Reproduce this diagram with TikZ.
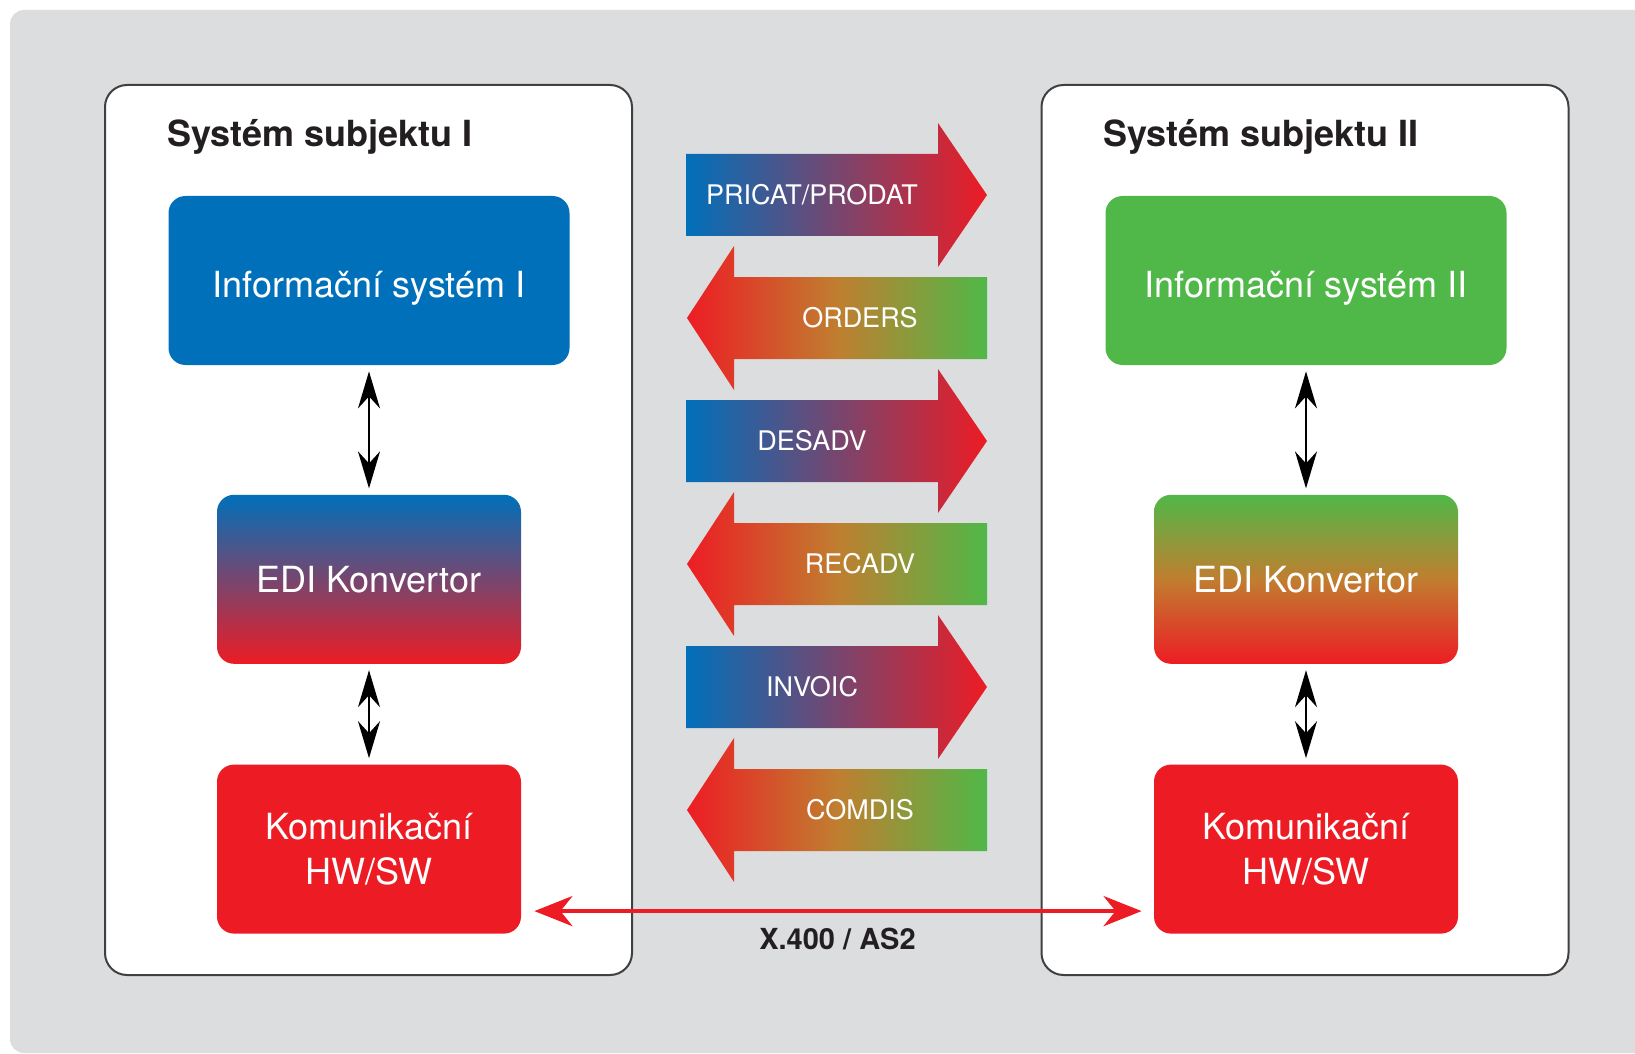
\documentclass[tikz,border=0pt]{standalone}
\usepackage{fontspec}
\setmainfont{TeX Gyre Heros}
\usetikzlibrary{arrows.meta, positioning}

\definecolor{bggray}{RGB}{220,221,223}
\definecolor{rimgray}{RGB}{64,64,64}
\definecolor{isblue}{RGB}{0,112,186}
\definecolor{isgreen}{RGB}{80,184,72}
\definecolor{komred}{RGB}{237,28,36}
\definecolor{midorange}{RGB}{192,126,48}
\definecolor{inkblack}{RGB}{35,31,32}

\begin{document}
\begin{tikzpicture}[
    x=0.5pt, y=-0.5pt,
    node distance=50pt,
    panel/.style={rectangle, draw=rimgray, line width=1pt, fill=white, rounded corners=11pt, minimum width=263.5pt, minimum height=445pt},
    heading/.style={anchor=base west, inner sep=0pt, text=inkblack, font=\fontsize{18}{22}\selectfont\bfseries},
    sysbox/.style={rectangle, rounded corners=8.5pt, text=white, align=center, minimum height=84.5pt, font=\fontsize{18}{22.5}\selectfont},
    widebox/.style={sysbox, minimum width=200.5pt, text height=17pt, text depth=0pt},
    narrowbox/.style={sysbox, minimum width=152pt},
    rmsg/.style={left color=isblue, right color=komred},
    lmsg/.style={left color=komred, right color=isgreen, middle color=midorange},
    msg/.style={text=white, font=\fontsize{13.5}{16}\selectfont},
    dbl/.style={<->, line width=1pt, shorten <=3pt, shorten >=3pt, >={Stealth[length=18.5pt, width=11pt, inset=6pt]}},
    link/.style={<->, draw=komred, line width=2.25pt, shorten <=6.5pt, shorten >=6pt, >={Stealth[length=19pt, width=15pt, inset=6pt]}}
]
\useasboundingbox (0,0) rectangle (1635,1054);
\fill[bggray, rounded corners=7pt] (10,10) rectangle (1700,1053);

% the two subjects
\node[panel] (sys1) at (368.5,530) {};
\node[panel] (sys2) at (1305,530) {};
\node[heading] (title1) at (167,147) {Systém subjektu I};
\node[heading] (title2) at (1103,147) {Systém subjektu II};

\node[widebox, fill=isblue] (info1) at (369,280.5) {Informační systém I};
\node[narrowbox, top color=isblue, bottom color=komred, below=64.5pt of info1] (edi1) {EDI Konvertor};
\node[narrowbox, fill=komred, below=of edi1] (kom1) {Komunikační\\HW/SW};

\node[widebox, fill=isgreen] (info2) at (1306,280.5) {Informační systém II};
\node[narrowbox, top color=isgreen, bottom color=komred, middle color=midorange, below=64.5pt of info2] (edi2) {EDI Konvertor};
\node[narrowbox, fill=komred, below=of edi2] (kom2) {Komunikační\\HW/SW};

% messages
\path[rmsg] (686,154) -- (938,154) -- (938,123) -- (987,195) -- (938,267) -- (938,236) -- (686,236) -- cycle;
\node[msg] (pricat) at (812,195) {PRICAT/PRODAT};
\path[lmsg] (687,318) -- (734,246) -- (734,277) -- (987,277) -- (987,359) -- (734,359) -- (734,390) -- cycle;
\node[msg] (orders) at (860,318) {ORDERS};
\path[rmsg] (686,400) -- (938,400) -- (938,369) -- (987,441) -- (938,513) -- (938,482) -- (686,482) -- cycle;
\node[msg] (desadv) at (812,441) {DESADV};
\path[lmsg] (687,564) -- (734,492) -- (734,523) -- (987,523) -- (987,605) -- (734,605) -- (734,636) -- cycle;
\node[msg] (recadv) at (860,564) {RECADV};
\path[rmsg] (686,646) -- (938,646) -- (938,615) -- (987,687) -- (938,759) -- (938,728) -- (686,728) -- cycle;
\node[msg] (invoic) at (812,687) {INVOIC};
\path[lmsg] (687,810) -- (734,738) -- (734,769) -- (987,769) -- (987,851) -- (734,851) -- (734,882) -- cycle;
\node[msg] (comdis) at (860,810) {COMDIS};

% links
\draw[dbl] (info1) -- (edi1);
\draw[dbl] (edi1) -- (kom1);
\draw[dbl] (info2) -- (edi2);
\draw[dbl] (edi2) -- (kom2);
\draw[link] ([yshift=-31pt]kom1.east) -- node[midway, yshift=-14pt, text=inkblack, font=\fontsize{14.5}{17}\selectfont\bfseries] (proto) {X.400 / AS2} ([yshift=-31pt]kom2.west);
\end{tikzpicture}
\end{document}
